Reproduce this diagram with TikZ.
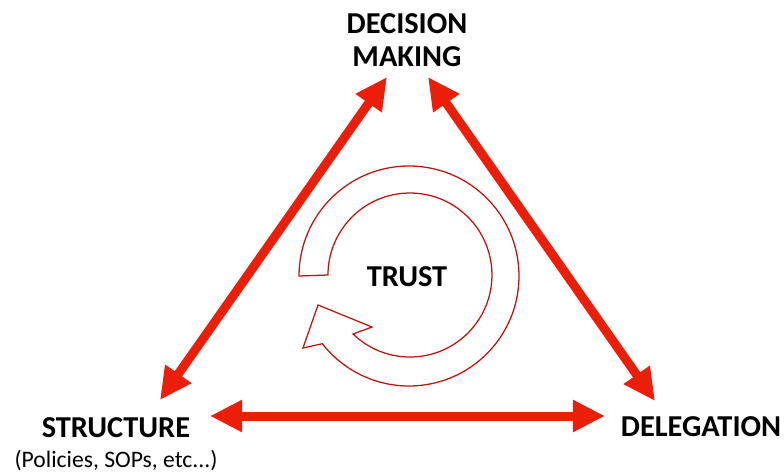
\documentclass[tikz,border=0pt]{standalone}
\usepackage{fontspec}
\setmainfont{Carlito}
\usetikzlibrary{arrows.meta,positioning,calc}
\definecolor{linkred}{RGB}{235,30,10}
\definecolor{ringred}{RGB}{190,20,15}

\begin{document}
\begin{tikzpicture}[x=0.025cm,y=-0.025cm,
  corner/.style={font=\bfseries\fontsize{21.6}{23.5}\selectfont,align=center,inner sep=0pt},
  link/.style={linkred,line width=6.4pt,
    {Triangle[length=0.8cm,width=0.75cm]}-{Triangle[length=0.8cm,width=0.75cm]}},
  ring/.style={ringred,line width=0.9pt,fill=white}]
 \useasboundingbox (0,0) rectangle (784,472);

 % the three corners
 \node [corner] (decision) at (407,40) {DECISION\\MAKING};
 \node [corner] (structure) at (116,428) {STRUCTURE};
 \node [below=0.3cm of structure,inner sep=0pt,font=\fontsize{16.8}{19}\selectfont] (policies) {(Policies, SOPs, etc...)};
 \node [corner] (delegation) at (701,427) {DELEGATION};

 % arrow ends
 \coordinate (dm-l) at (387,77);
 \coordinate (dm-r) at (428,77);
 \coordinate (st-u) at (160,400);
 \coordinate (st-r) at (210,416);
 \coordinate (de-u) at (655,401);
 \coordinate (de-l) at (605,416);
 \draw [link] (st-u) -- (dm-l);
 \draw [link] (dm-r) -- (de-u);
 \draw [link] (st-r) -- (de-l);

 % circular arrow in the middle
 \coordinate (hub) at (409,276);
 \draw [ring] ($(hub)+(180:110)$) arc[start angle=180,end angle=502,radius=110]
   -- (303,348) -- (318,305) -- (372,327) -- (353,334)
   arc[start angle=134,end angle=-180,radius=82] -- cycle;
 \node [corner] (trust) at (407,277) {TRUST};
\end{tikzpicture}
\end{document}
